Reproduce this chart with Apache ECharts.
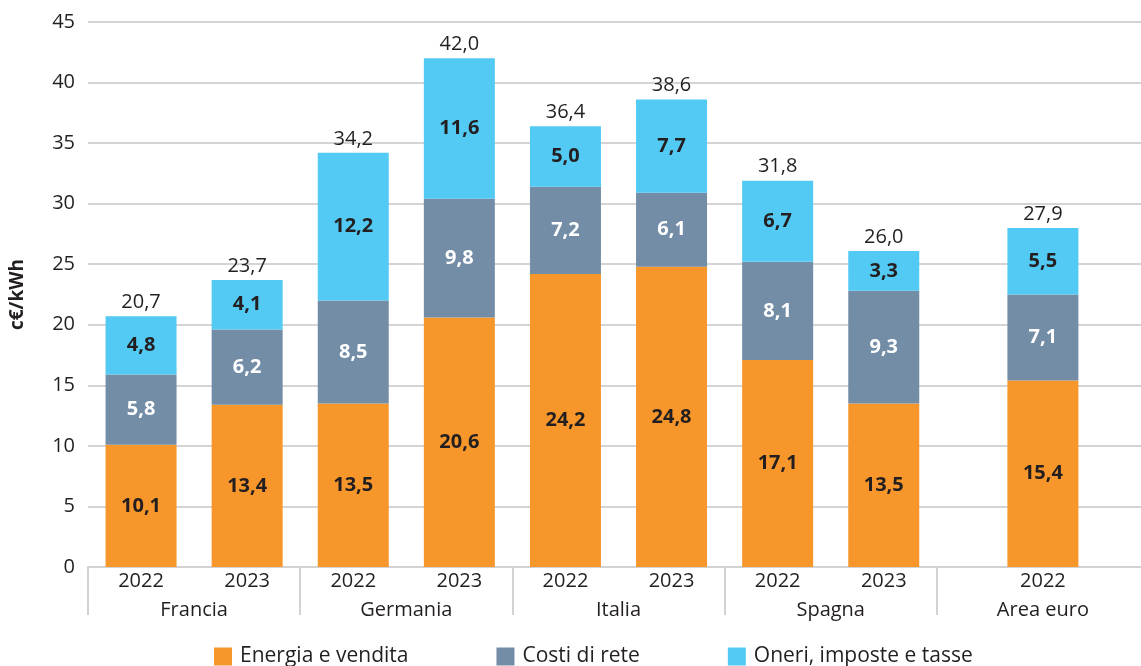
<!DOCTYPE html>
<html>
<head>
<meta charset="utf-8">
<script src="https://cdn.jsdelivr.net/npm/echarts@6/dist/echarts.min.js"></script>
<style>
  html, body { margin: 0; padding: 0; background: #fff; }
  #chart { width: 1141px; height: 666px; }
</style>
</head>
<body>
<div id="chart"></div>
<script>
// slot (mezze unità) di ciascuna barra: Area euro ha una sola barra al centro del gruppo
const slots = [1, 3, 5, 7, 9, 11, 13, 15, 18];
const years = ['2022', '2023', '2022', '2023', '2022', '2023', '2022', '2023', '2022'];
const countries = ['Francia', 'Germania', 'Italia', 'Spagna', 'Area euro'];
const countrySlots = [2, 6, 10, 14, 18];
const separatorSlots = [0, 4, 8, 12, 16, 20];

const energia = [10.1, 13.4, 13.5, 20.6, 24.2, 24.8, 17.1, 13.5, 15.4];
const rete = [5.8, 6.2, 8.5, 9.8, 7.2, 6.1, 8.1, 9.3, 7.1];
const oneri = [4.8, 4.1, 12.2, 11.6, 5.0, 7.7, 6.7, 3.3, 5.5];
const totali = [20.7, 23.7, 34.2, 42.0, 36.4, 38.6, 31.8, 26.0, 27.9];

const yTicks = [0, 5, 10, 15, 20, 25, 30, 35, 40, 45];

const N = 21;
const cats = Array.from({ length: N }, (_, i) => String(i));
const fontFam = '"Open Sans", sans-serif';
const txt = '#231f20';
const fs = 20;
const fmt = v => v.toFixed(1).replace('.', ',');

function spread(arr) {
  const out = new Array(N).fill('-');
  arr.forEach((v, i) => { out[slots[i]] = v; });
  return out;
}

const chart = echarts.init(document.getElementById('chart'), null, { renderer: 'canvas' });

function seg(name, arr, color, labelColor) {
  return {
    name: name,
    type: 'bar',
    stack: 'tot',
    barWidth: 71,
    data: spread(arr),
    itemStyle: { color: color },
    label: {
      show: true,
      position: 'inside',
      color: labelColor,
      fontWeight: 'bold',
      fontSize: fs,
      fontFamily: fontFam,
      formatter: p => fmt(p.value)
    },
    emphasis: { disabled: true }
  };
}

const option = {
  animation: false,
  grid: { left: 88, top: 22, width: 1061, height: 545, outerBoundsMode: 'none', containLabel: false },
  legend: {
    data: ['Energia e vendita', 'Costi di rete', 'Oneri, imposte e tasse'],
    left: 209,
    top: 641,
    itemWidth: 18,
    itemHeight: 18,
    itemGap: 88,
    icon: 'rect',
    textStyle: { fontSize: 21, color: txt, fontFamily: fontFam, padding: [0, 0, 0, 3] }
  },
  xAxis: [
    {
      type: 'category',
      data: cats,
      boundaryGap: false,
      axisLine: { show: true, lineStyle: { color: '#d2d2d2', width: 2 } },
      axisTick: { show: false },
      splitLine: { show: false },
      axisLabel: {
        interval: 0,
        margin: 4,
        fontSize: fs,
        color: txt,
        fontFamily: fontFam,
        formatter: (v, idx) => {
          const i = slots.indexOf(idx);
          return i >= 0 ? years[i] : '';
        }
      }
    },
    {
      type: 'category',
      data: cats,
      boundaryGap: false,
      position: 'bottom',
      axisLine: { show: false },
      axisTick: {
        show: true,
        length: 48,
        interval: idx => separatorSlots.indexOf(idx) >= 0,
        lineStyle: { color: '#d2d2d2', width: 2 }
      },
      splitLine: { show: false },
      axisLabel: {
        interval: 0,
        margin: 33,
        fontSize: fs,
        color: txt,
        fontFamily: fontFam,
        formatter: (v, idx) => {
          const i = countrySlots.indexOf(idx);
          return i >= 0 ? countries[i] : '';
        }
      }
    }
  ],
  yAxis: {
    type: 'value',
    min: yTicks[0],
    max: yTicks[yTicks.length - 1],
    interval: 5,
    name: 'c€/kWh',
    nameLocation: 'middle',
    nameRotate: 90,
    nameGap: 61,
    nameTextStyle: { fontSize: 19, fontWeight: 'bold', color: txt, fontFamily: fontFam },
    axisLine: { show: false },
    axisTick: { show: false },
    axisLabel: { fontSize: fs, color: txt, fontFamily: fontFam, margin: 13 },
    splitLine: { lineStyle: { color: '#d4d4d4', width: 2 } }
  },
  series: [
    seg('Energia e vendita', energia, '#f7962a', txt),
    seg('Costi di rete', rete, '#748da6', '#ffffff'),
    seg('Oneri, imposte e tasse', oneri, '#52caf3', txt),
    {
      name: 'totale',
      type: 'bar',
      stack: 'tot',
      barWidth: 71,
      data: spread(totali.map(() => 0)),
      itemStyle: { color: 'rgba(0,0,0,0)' },
      label: {
        show: true,
        position: 'top',
        distance: 4,
        color: txt,
        fontSize: fs,
        fontFamily: fontFam,
        formatter: p => fmt(totali[slots.indexOf(p.dataIndex)])
      },
      emphasis: { disabled: true }
    }
  ]
};

chart.setOption(option);
</script>
</body>
</html>
